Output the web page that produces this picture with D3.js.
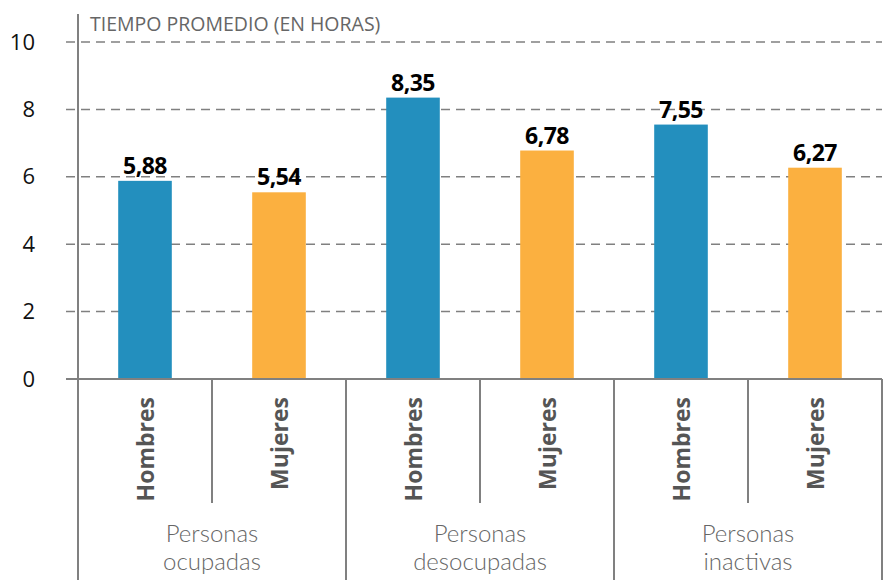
<!DOCTYPE html>
<html>
<head>
<meta charset="utf-8">
<script src="https://cdn.jsdelivr.net/npm/d3@7"></script>
<style>
  body { margin: 0; background: #fff; }
  text { font-family: "Open Sans", "Noto Sans", sans-serif; }
  .grp { font-family: Lato, "Open Sans", sans-serif; }
</style>
</head>
<body>
<div id="chart"></div>
<script>
// data
var groups = ["Personas ocupadas", "Personas desocupadas", "Personas inactivas"];
var groupLines = [["Personas", "ocupadas"], ["Personas", "desocupadas"], ["Personas", "inactivas"]];
var sexes = ["Hombres", "Mujeres"];
var hombres = [5.88, 8.35, 7.55];
var mujeres = [5.54, 6.78, 6.27];
var yTicks = [0, 2, 4, 6, 8, 10];

var svgWidth = 885;
var svgHeight = 580;
var margin = { top: 42, right: 3, bottom: 201, left: 78 };
var width = svgWidth - margin.left - margin.right;
var height = svgHeight - margin.top - margin.bottom;

var colors = { Hombres: "#238fbe", Mujeres: "#fbb040" };

var svg = d3.select("#chart").append("svg")
    .attr("width", svgWidth)
    .attr("height", svgHeight);

var g = svg.append("g")
    .attr("transform", "translate(" + margin.left + "," + margin.top + ")");

// scales
var x0 = d3.scaleBand().domain(groups).range([0, width]).padding(0);
var x1 = d3.scaleBand().domain(sexes).range([0, x0.bandwidth()]).paddingInner(0.6).paddingOuter(0.3);
var y = d3.scaleLinear().domain([0, 10]).range([height, 0]);

// gridlines (dashed)
g.selectAll(".grid")
    .data(yTicks.filter(d => d > 0))
    .enter().append("line")
    .attr("x1", -12).attr("x2", width)
    .attr("y1", d => y(d)).attr("y2", d => y(d))
    .attr("stroke", "#808080")
    .attr("stroke-width", 1.5)
    .attr("stroke-dasharray", "9,6");

// y axis labels
var leftAxis = d3.axisLeft(y).tickValues(yTicks).tickSize(0).tickPadding(43);
var ya = g.append("g").call(leftAxis);
ya.select(".domain").remove();
ya.selectAll("text")
    .attr("font-size", 22)
    .attr("fill", "#111")
    .attr("dy", "0.32em");

// data rows
var rows = groups.map(function (grp, i) {
    return [{ group: grp, sex: "Hombres", value: hombres[i] },
            { group: grp, sex: "Mujeres", value: mujeres[i] }];
});
var flat = d3.merge(rows);

// bars
g.selectAll(".bar")
    .data(flat)
    .enter().append("rect")
    .attr("x", d => x0(d.group) + x1(d.sex))
    .attr("width", x1.bandwidth())
    .attr("y", d => y(d.value))
    .attr("height", d => y(0) - y(d.value))
    .attr("fill", d => colors[d.sex]);

// value labels
g.selectAll(".val")
    .data(flat)
    .enter().append("text")
    .attr("x", d => x0(d.group) + x1(d.sex) + x1.bandwidth() / 2)
    .attr("y", d => y(d.value) - 7)
    .attr("text-anchor", "middle")
    .attr("font-size", 23)
    .attr("font-weight", "bold")
    .attr("fill", "#000")
    .attr("letter-spacing", -0.5)
    .text(d => d3.format(".2f")(d.value).replace(".", ","));

// baseline
g.append("line")
    .attr("x1", -12).attr("x2", width)
    .attr("y1", y(0)).attr("y2", y(0))
    .attr("stroke", "#808080").attr("stroke-width", 2);

// y axis line
g.append("line")
    .attr("x1", 0).attr("x2", 0)
    .attr("y1", -28).attr("y2", svgHeight - margin.top)
    .attr("stroke", "#808080").attr("stroke-width", 2);

// group separators
g.selectAll(".gsep")
    .data(groups)
    .enter().append("line")
    .attr("x1", d => x0(d) + x0.bandwidth())
    .attr("x2", d => x0(d) + x0.bandwidth())
    .attr("y1", y(0)).attr("y2", svgHeight - margin.top)
    .attr("stroke", "#808080").attr("stroke-width", 2);

// sex separators
g.selectAll(".ssep")
    .data(groups)
    .enter().append("line")
    .attr("x1", d => x0(d) + x0.bandwidth() / 2)
    .attr("x2", d => x0(d) + x0.bandwidth() / 2)
    .attr("y1", y(0)).attr("y2", y(0) + 124)
    .attr("stroke", "#808080").attr("stroke-width", 2);

// rotated sex labels
g.selectAll(".sexlab")
    .data(flat)
    .enter().append("text")
    .attr("transform", d => "translate(" + (x0(d.group) + x1(d.sex) + x1.bandwidth() / 2 + 9) + "," + (y(0) + 18) + ") rotate(-90)")
    .attr("text-anchor", "end")
    .attr("font-size", 23)
    .attr("font-weight", "bold")
    .attr("fill", "#555")
    .text(d => d.sex);

// group labels, two lines each
groups.forEach(function (grp, i) {
    groupLines[i].forEach(function (line, j) {
        g.append("text")
            .attr("class", "grp")
            .attr("x", x0(grp) + x0.bandwidth() / 2)
            .attr("y", y(0) + 163 + j * 28)
            .attr("text-anchor", "middle")
            .attr("font-size", 24)
            .attr("font-weight", 300)
            .attr("fill", "#666")
            .text(line);
    });
});

// title
svg.append("text")
    .attr("x", 90)
    .attr("y", 31)
    .attr("font-size", 19.5)
    .attr("fill", "#666")
    .text("TIEMPO PROMEDIO (EN HORAS)");
</script>
</body>
</html>
